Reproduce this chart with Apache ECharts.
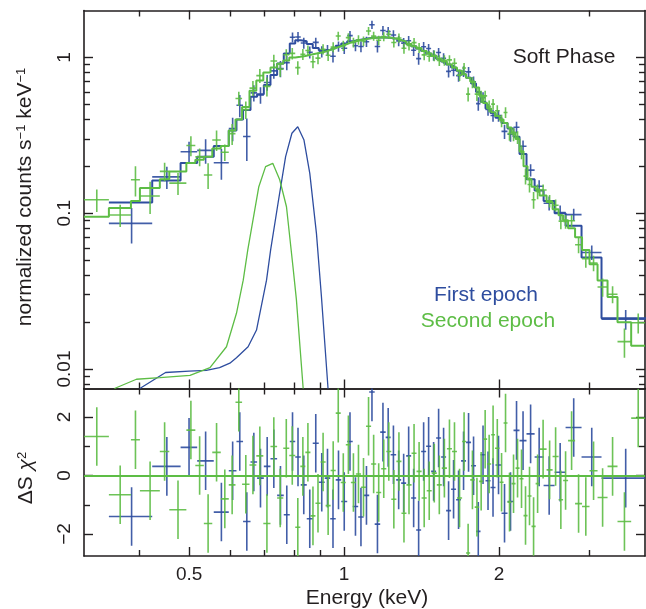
<!DOCTYPE html>
<html>
<head>
<meta charset="utf-8">
<script src="https://cdn.jsdelivr.net/npm/echarts@6/dist/echarts.min.js"></script>
<style>html,body{margin:0;padding:0;background:#fff}#c{width:646px;height:609px}</style>
</head>
<body>
<div id="c"></div>
<script>
// ---------------- DATA ----------------
// Energy axis (keV) tick values
const xTickMajor = [0.5, 1, 2];
const xTickMinor = [0.4, 0.6, 0.7, 0.8, 0.9, 3];
// Top panel (normalized counts s^-1 keV^-1) tick values
const yTopMajor = [0.01, 0.1, 1];
const yTopMinor = [0.008, 0.009, 0.02, 0.03, 0.04, 0.05, 0.06, 0.07, 0.08, 0.09,
                   0.2, 0.3, 0.4, 0.5, 0.6, 0.7, 0.8, 0.9];
// Residual panel ticks
const yResMajor = [-2, 0, 2];
const yResMinor = [-1, 1];

// First epoch (blue): bin edges (keV), data, 1-sigma errors, model, residuals
const blueEdges = [0.3492, 0.4239, 0.4813, 0.5184, 0.5583, 0.5971, 0.6180, 0.6365, 0.6581, 0.6778,
  0.6985, 0.7196, 0.7413, 0.7637, 0.7845, 0.8039, 0.8240, 0.8464, 0.8694, 0.8931,
  0.9173, 0.9401, 0.9636, 0.9876, 1.0144, 1.0397, 1.0655, 1.0920, 1.1193, 1.1471,
  1.1757, 1.2049, 1.2321, 1.2628, 1.2913, 1.3205, 1.3503, 1.3808, 1.4120, 1.4439,
  1.4765, 1.5099, 1.5440, 1.5788, 1.6145, 1.6509, 1.6882, 1.7264, 1.7654, 1.8053,
  1.8419, 1.8835, 1.9261, 1.9696, 2.0232, 2.0783, 2.1349, 2.1930, 2.2628, 2.3463,
  2.4426, 2.5658, 2.6951, 2.8946, 3.1651, 3.8886];
const blueCounts = [0.086, 0.171, 0.248, 0.253, 0.211, 0.35, 0.493, 0.311, 0.592, 0.574,
  0.69, 0.82, 0.847, 0.926, 1.346, 1.353, 1.238, 1.079, 1.249, 1.089,
  1.112, 1.017, 1.177, 1.145, 1.38, 1.189, 1.175, 1.26, 1.62, 1.174,
  1.488, 1.465, 1.391, 1.276, 1.235, 1.28, 1.111, 0.982, 1.17, 1.14,
  1.031, 1.076, 0.987, 0.814, 0.827, 0.764, 0.812, 0.808, 0.698, 0.505,
  0.552, 0.463, 0.424, 0.423, 0.335, 0.321, 0.356, 0.269, 0.189, 0.149,
  0.116, 0.101, 0.098, 0.056, 0.0209];
const blueErr = [0.022, 0.028, 0.04, 0.045, 0.047, 0.06, 0.08, 0.095, 0.07, 0.07,
  0.08, 0.09, 0.1, 0.1, 0.1, 0.1, 0.1, 0.095, 0.09, 0.09,
  0.09, 0.09, 0.09, 0.095, 0.095, 0.095, 0.095, 0.095, 0.1, 0.1,
  0.1, 0.1, 0.1, 0.095, 0.095, 0.09, 0.09, 0.085, 0.085, 0.08,
  0.08, 0.075, 0.075, 0.072, 0.07, 0.067, 0.064, 0.06, 0.056, 0.05,
  0.045, 0.04, 0.038, 0.037, 0.035, 0.033, 0.03, 0.024, 0.017, 0.014,
  0.012, 0.011, 0.009, 0.006, 0.003];
const blueModel = [0.117, 0.162, 0.21, 0.23, 0.27, 0.34, 0.40, 0.46, 0.56, 0.58,
  0.665, 0.77, 0.915, 1.06, 1.23, 1.29, 1.27, 1.22, 1.15, 1.11,
  1.12, 1.15, 1.19, 1.23, 1.27, 1.29, 1.31, 1.325, 1.335, 1.34,
  1.34, 1.335, 1.32, 1.29, 1.26, 1.22, 1.18, 1.14, 1.10, 1.06,
  1.02, 0.98, 0.94, 0.90, 0.86, 0.82, 0.78, 0.74, 0.68, 0.60,
  0.52, 0.47, 0.44, 0.41, 0.38, 0.35, 0.31, 0.24, 0.165, 0.14,
  0.12, 0.10, 0.083, 0.052, 0.0212];
const blueResid = [-1.40, 0.31, 0.96, 0.5, -1.25, 0.16, 1.16, -1.57, 0.46, -0.09,
  0.31, 0.57, -0.68, -1.34, 1.16, 0.63, -0.32, -1.48, 1.1, -0.23,
  -0.09, -1.48, -0.15, -0.89, 1.16, -1.06, -1.42, -0.68, 2.85, -1.66,
  1.48, 1.3, 0.71, -0.15, -0.26, 0.67, -0.77, -1.86, 0.82, 1.0,
  0.14, 1.28, 0.63, -1.2, -0.47, -0.83, 0.5, 1.13, 0.33, -1.91,
  0.71, -0.18, -0.41, 0.36, -1.29, -0.89, 1.54, 1.19, 1.42, 0.63,
  -0.34, 0.11, 1.64, 0.63, -0.09];

// Second epoch (green)
const greenEdges = [0.3124, 0.3492, 0.3854, 0.4012, 0.4386, 0.4576, 0.4939, 0.5141, 0.5341, 0.5546,
  0.5761, 0.5971, 0.6153, 0.6337, 0.6551, 0.6754, 0.6969, 0.7196, 0.7413, 0.7620,
  0.7827, 0.8039, 0.8225, 0.8411, 0.8605, 0.8800, 0.9002, 0.9210, 0.9418, 0.9636,
  0.9854, 1.0081, 1.0313, 1.0546, 1.0790, 1.1033, 1.1288, 1.1548, 1.1810, 1.2082,
  1.2355, 1.2640, 1.2931, 1.3223, 1.3528, 1.3833, 1.4152, 1.4478, 1.4805, 1.5146,
  1.5489, 1.5849, 1.6210, 1.6577, 1.6962, 1.7264, 1.7586, 1.7944, 1.8307, 1.8637,
  1.8973, 1.9316, 1.9652, 2.0057, 2.0420, 2.0783, 2.1158, 2.1545, 2.1930, 2.2326,
  2.2730, 2.3139, 2.3570, 2.3988, 2.4755, 2.5429, 2.6121, 2.6650, 2.7252, 2.8119,
  2.9010, 2.9997, 3.1095, 3.2518, 3.3999, 3.6144, 3.8454];
const greenCounts = [0.122, 0.0975, 0.164, 0.129, 0.1855, 0.156, 0.272, 0.230, 0.176, 0.295,
  0.246, 0.324, 0.545, 0.462, 0.635, 0.764, 0.652, 0.949, 0.841, 1.039,
  1.061, 0.86, 1.046, 1.107, 0.938, 0.989, 1.129, 1.032, 1.164, 1.372,
  1.188, 1.34, 1.248, 1.295, 1.274, 1.476, 1.37, 1.288, 1.361, 1.409,
  1.247, 1.333, 1.144, 1.193, 1.245, 1.152, 1.038, 1.018, 1.026, 0.956,
  0.959, 0.964, 0.917, 0.77, 0.855, 0.581, 0.691, 0.581, 0.56, 0.566,
  0.486, 0.501, 0.455, 0.392, 0.443, 0.325, 0.321, 0.307, 0.247, 0.173,
  0.153, 0.122, 0.138, 0.141, 0.12, 0.1125, 0.089, 0.0885, 0.0895, 0.0628,
  0.0511, 0.0479, 0.0336, 0.0302, 0.015, 0.0198];
const greenErr = [0.02, 0.016, 0.036, 0.03, 0.025, 0.025, 0.04, 0.03, 0.033, 0.044,
  0.03, 0.05, 0.058, 0.06, 0.07, 0.08, 0.09, 0.09, 0.09, 0.09,
  0.09, 0.085, 0.085, 0.085, 0.085, 0.085, 0.085, 0.085, 0.085, 0.09,
  0.09, 0.09, 0.09, 0.09, 0.09, 0.09, 0.09, 0.09, 0.09, 0.09,
  0.09, 0.09, 0.09, 0.085, 0.085, 0.085, 0.08, 0.08, 0.08, 0.075,
  0.075, 0.07, 0.07, 0.065, 0.065, 0.06, 0.058, 0.055, 0.05, 0.045,
  0.042, 0.04, 0.038, 0.036, 0.035, 0.033, 0.031, 0.029, 0.025, 0.02,
  0.017, 0.015, 0.015, 0.012, 0.011, 0.01, 0.01, 0.009, 0.008, 0.0075,
  0.0065, 0.0055, 0.0045, 0.0038, 0.0032, 0.0029];
const greenModel = [0.095, 0.108, 0.12, 0.145, 0.165, 0.185, 0.21, 0.22, 0.23, 0.26,
  0.27, 0.34, 0.40, 0.48, 0.61, 0.71, 0.80, 0.86, 0.91, 0.955,
  1.0, 1.01, 1.02, 1.04, 1.055, 1.07, 1.09, 1.12, 1.15, 1.18,
  1.21, 1.245, 1.27, 1.29, 1.31, 1.325, 1.335, 1.34, 1.34, 1.335,
  1.32, 1.29, 1.26, 1.22, 1.18, 1.14, 1.10, 1.06, 1.02, 0.98,
  0.94, 0.90, 0.86, 0.82, 0.78, 0.74, 0.70, 0.64, 0.57, 0.51,
  0.47, 0.445, 0.42, 0.40, 0.38, 0.355, 0.33, 0.30, 0.25, 0.20,
  0.165, 0.148, 0.142, 0.13, 0.118, 0.106, 0.097, 0.09, 0.08, 0.07,
  0.058, 0.047, 0.037, 0.029, 0.020, 0.0141];
const greenResid = [1.33, -0.66, 1.22, -0.52, 0.82, -1.17, 1.55, 0.34, -1.64, 0.79,
  -0.8, -0.32, 2.5, -0.3, 0.36, 0.67, -1.64, 0.99, -0.77, 0.93,
  0.68, -1.77, 0.31, 0.79, -1.38, -0.95, 0.46, -1.03, 0.17, 2.13,
  -0.24, 1.05, -0.24, 0.05, -0.4, 1.68, 0.39, -0.58, 0.23, 0.82,
  -0.81, 0.48, -1.29, -0.32, 0.76, 0.14, -0.77, -0.52, 0.08, -0.32,
  0.25, 0.91, 0.82, -0.77, 1.16, -2.65, -0.15, -1.08, -0.2, 1.24,
  0.39, 1.39, 0.93, -0.23, 1.79, -0.91, -0.28, 0.25, -0.11, -1.37,
  -0.7, -1.74, -0.28, 0.9, 0.19, 0.65, -0.83, -0.17, 1.19, -0.96,
  -1.06, 0.16, -0.75, 0.31, -1.57, 1.96];

// Line-emission model components
const blueLineE = [0.401, 0.450, 0.500, 0.540, 0.573, 0.600, 0.618, 0.651, 0.676, 0.707,
  0.720, 0.745, 0.770, 0.792, 0.813, 0.836, 0.858, 0.884, 0.904, 0.931];
const blueLineY = [0.0075, 0.0095, 0.0097, 0.0098, 0.0102, 0.0109, 0.0118, 0.0139, 0.0178, 0.0372,
  0.058, 0.118, 0.231, 0.326, 0.359, 0.295, 0.18, 0.074, 0.029, 0.0075];
const greenLineE = [0.358, 0.395, 0.439, 0.502, 0.549, 0.591, 0.618, 0.637, 0.650, 0.683,
  0.704, 0.727, 0.750, 0.773, 0.796, 0.808, 0.833];
const greenLineY = [0.0075, 0.0086, 0.0088, 0.0091, 0.0102, 0.0139, 0.0228, 0.0372, 0.058, 0.148,
  0.199, 0.209, 0.164, 0.110, 0.045, 0.028, 0.0075];

// ---------------- STYLE / LAYOUT ----------------
const X_MIN = 0.3124, X_MAX = 3.845;
const Y_MIN = 0.0075, Y_MAX = 2.0;
const R_MIN = -2.75, R_MAX = 2.97;
const FONT = '"Liberation Sans", Arial, Helvetica, sans-serif';
const AX = '#231f20';
const BLUE = '#2e4d9f';
const GREEN = '#5dbd45';
const MAJ = 9, MIN = 6;

function binRows(edges, vals, errs) {
  return vals.map((v, i) => [edges[i], edges[i + 1], v, errs ? errs[i] : 1]);
}
function stepRows(edges, vals) {
  const out = [];
  vals.forEach((v, i) => { out.push([edges[i], v]); out.push([edges[i + 1], v]); });
  return out;
}
function zip(a, b) { return a.map((v, i) => [v, b[i]]); }

function crossSeries(data, color, xi, yi, z) {
  return {
    type: 'custom', xAxisIndex: xi, yAxisIndex: yi, clip: true, z: z,
    encode: { x: [0, 1], y: 2 }, data: data, animation: false, silent: true,
    renderItem: function (params, api) {
      const lo = api.value(0), hi = api.value(1), v = api.value(2), e = api.value(3);
      const c = (lo + hi) / 2;
      const a = api.coord([lo, v]), b = api.coord([hi, v]);
      const p = api.coord([c, v + e]), q = api.coord([c, v - e]);
      const st = { stroke: color, lineWidth: 1.6, opacity: 0.9 };
      return { type: 'group', children: [
        { type: 'line', shape: { x1: a[0], y1: a[1], x2: b[0], y2: b[1] }, style: st },
        { type: 'line', shape: { x1: p[0], y1: p[1], x2: q[0], y2: q[1] }, style: st }
      ] };
    }
  };
}
function lineSeries(data, color, width, xi, yi, z) {
  return { type: 'line', xAxisIndex: xi, yAxisIndex: yi, data: data, symbol: 'none',
    showSymbol: false, clip: true, z: z, animation: false, silent: true,
    lineStyle: { color: color, width: width } };
}

function tickAxis(base, grid, pos, vals, len, showLine, label) {
  return Object.assign({}, base, {
    gridIndex: grid, position: pos, splitLine: { show: false },
    axisLine: { show: showLine, onZero: false, lineStyle: { color: AX, width: 1.6 } },
    axisTick: { show: true, inside: true, length: len, customValues: vals,
      lineStyle: { color: AX, width: 1.4 } },
    axisLabel: label ? label : { show: false }
  });
}

const xLog = { type: 'log', logBase: 10, min: X_MIN, max: X_MAX };
const yLog = { type: 'log', logBase: 10, min: Y_MIN, max: Y_MAX };
const yRes = { type: 'value', min: R_MIN, max: R_MAX };

const xLabel = { show: true, customValues: xTickMajor, margin: 9, color: AX,
  fontSize: 19, fontFamily: FONT, formatter: v => String(+(+v).toPrecision(3)) };
const yTopLabel = { show: true, customValues: yTopMajor, rotate: 90, margin: 10, color: AX,
  fontSize: 19, fontFamily: FONT, formatter: v => String(+(+v).toPrecision(3)) };
const yResLabel = { show: true, customValues: yResMajor, rotate: 90, margin: 10, color: AX,
  fontSize: 19, fontFamily: FONT, formatter: v => String(v).replace('-', '\u2212') };

const xAxes = [
  tickAxis(xLog, 0, 'bottom', xTickMajor, MAJ, true, null),
  tickAxis(xLog, 0, 'bottom', xTickMinor, MIN, false, null),
  tickAxis(xLog, 0, 'top', xTickMajor, MAJ, true, null),
  tickAxis(xLog, 0, 'top', xTickMinor, MIN, false, null),
  tickAxis(xLog, 1, 'bottom', xTickMajor, MAJ, true, xLabel),
  tickAxis(xLog, 1, 'bottom', xTickMinor, MIN, false, null),
  tickAxis(xLog, 1, 'top', xTickMajor, MAJ, true, null),
  tickAxis(xLog, 1, 'top', xTickMinor, MIN, false, null)
];
const yAxes = [
  tickAxis(yLog, 0, 'left', yTopMajor, MAJ, true, yTopLabel),
  tickAxis(yLog, 0, 'left', yTopMinor, MIN, false, null),
  tickAxis(yLog, 0, 'right', yTopMajor, MAJ, true, null),
  tickAxis(yLog, 0, 'right', yTopMinor, MIN, false, null),
  tickAxis(yRes, 1, 'left', yResMajor, MAJ, true, yResLabel),
  tickAxis(yRes, 1, 'left', yResMinor, MIN, false, null),
  tickAxis(yRes, 1, 'right', yResMajor, MAJ, true, null),
  tickAxis(yRes, 1, 'right', yResMinor, MIN, false, null)
];

const series = [
  // top panel, first epoch
  crossSeries(binRows(blueEdges, blueCounts, blueErr), BLUE, 0, 0, 2),
  lineSeries(stepRows(blueEdges, blueModel), BLUE, 2, 0, 0, 3),
  lineSeries(zip(blueLineE, blueLineY), BLUE, 1.3, 0, 0, 3),
  // top panel, second epoch
  crossSeries(binRows(greenEdges, greenCounts, greenErr), GREEN, 0, 0, 4),
  lineSeries(stepRows(greenEdges, greenModel), GREEN, 2, 0, 0, 5),
  lineSeries(zip(greenLineE, greenLineY), GREEN, 1.3, 0, 0, 5),
  // residual panel
  crossSeries(binRows(blueEdges, blueResid, null), BLUE, 4, 4, 2),
  Object.assign(crossSeries(binRows(greenEdges, greenResid, null), GREEN, 4, 4, 4), {
    markLine: { silent: true, symbol: 'none', animation: false,
      label: { show: false }, lineStyle: { color: GREEN, width: 2, type: 'solid', opacity: 1 },
      data: [{ yAxis: 0 }] }
  })
];

function txt(x, y, text, color, rot, rich) {
  return { type: 'text', x: x, y: y, rotation: rot || 0, silent: true,
    style: { text: text, fill: color, font: '21px ' + FONT, fontSize: 21, fontFamily: FONT,
      align: 'center', verticalAlign: 'middle', textAlign: 'center', textVerticalAlign: 'middle',
      rich: rich || undefined } };
}
const supRich = {
  sup: { fontSize: 13, fontFamily: FONT, fill: AX, verticalAlign: 'top', padding: [0, 0, 8, 0] },
  it: { fontSize: 21, fontFamily: FONT, fontStyle: 'italic', fill: AX }
};

const option = {
  animation: false,
  backgroundColor: '#ffffff',
  grid: [
    { left: 84, top: 10.5, width: 561, height: 378 },
    { left: 84, top: 388.5, width: 561, height: 167.5 }
  ],
  xAxis: xAxes,
  yAxis: yAxes,
  series: series,
  graphic: [
    txt(25, 197, 'normalized counts s{sup|\u22121} keV{sup|\u22121}', AX, Math.PI / 2, supRich),
    txt(26, 478, '\u0394S {it|\u03c7}{sup|2}', AX, Math.PI / 2, supRich),
    txt(367, 598, 'Energy (keV)', AX, 0),
    txt(564, 57, 'Soft Phase', AX, 0),
    txt(486, 295, 'First epoch', BLUE, 0),
    txt(488, 321, 'Second epoch', GREEN, 0)
  ]
};

const chart = echarts.init(document.getElementById('c'), null, { renderer: 'canvas' });
chart.setOption(option);
</script>
</body>
</html>
